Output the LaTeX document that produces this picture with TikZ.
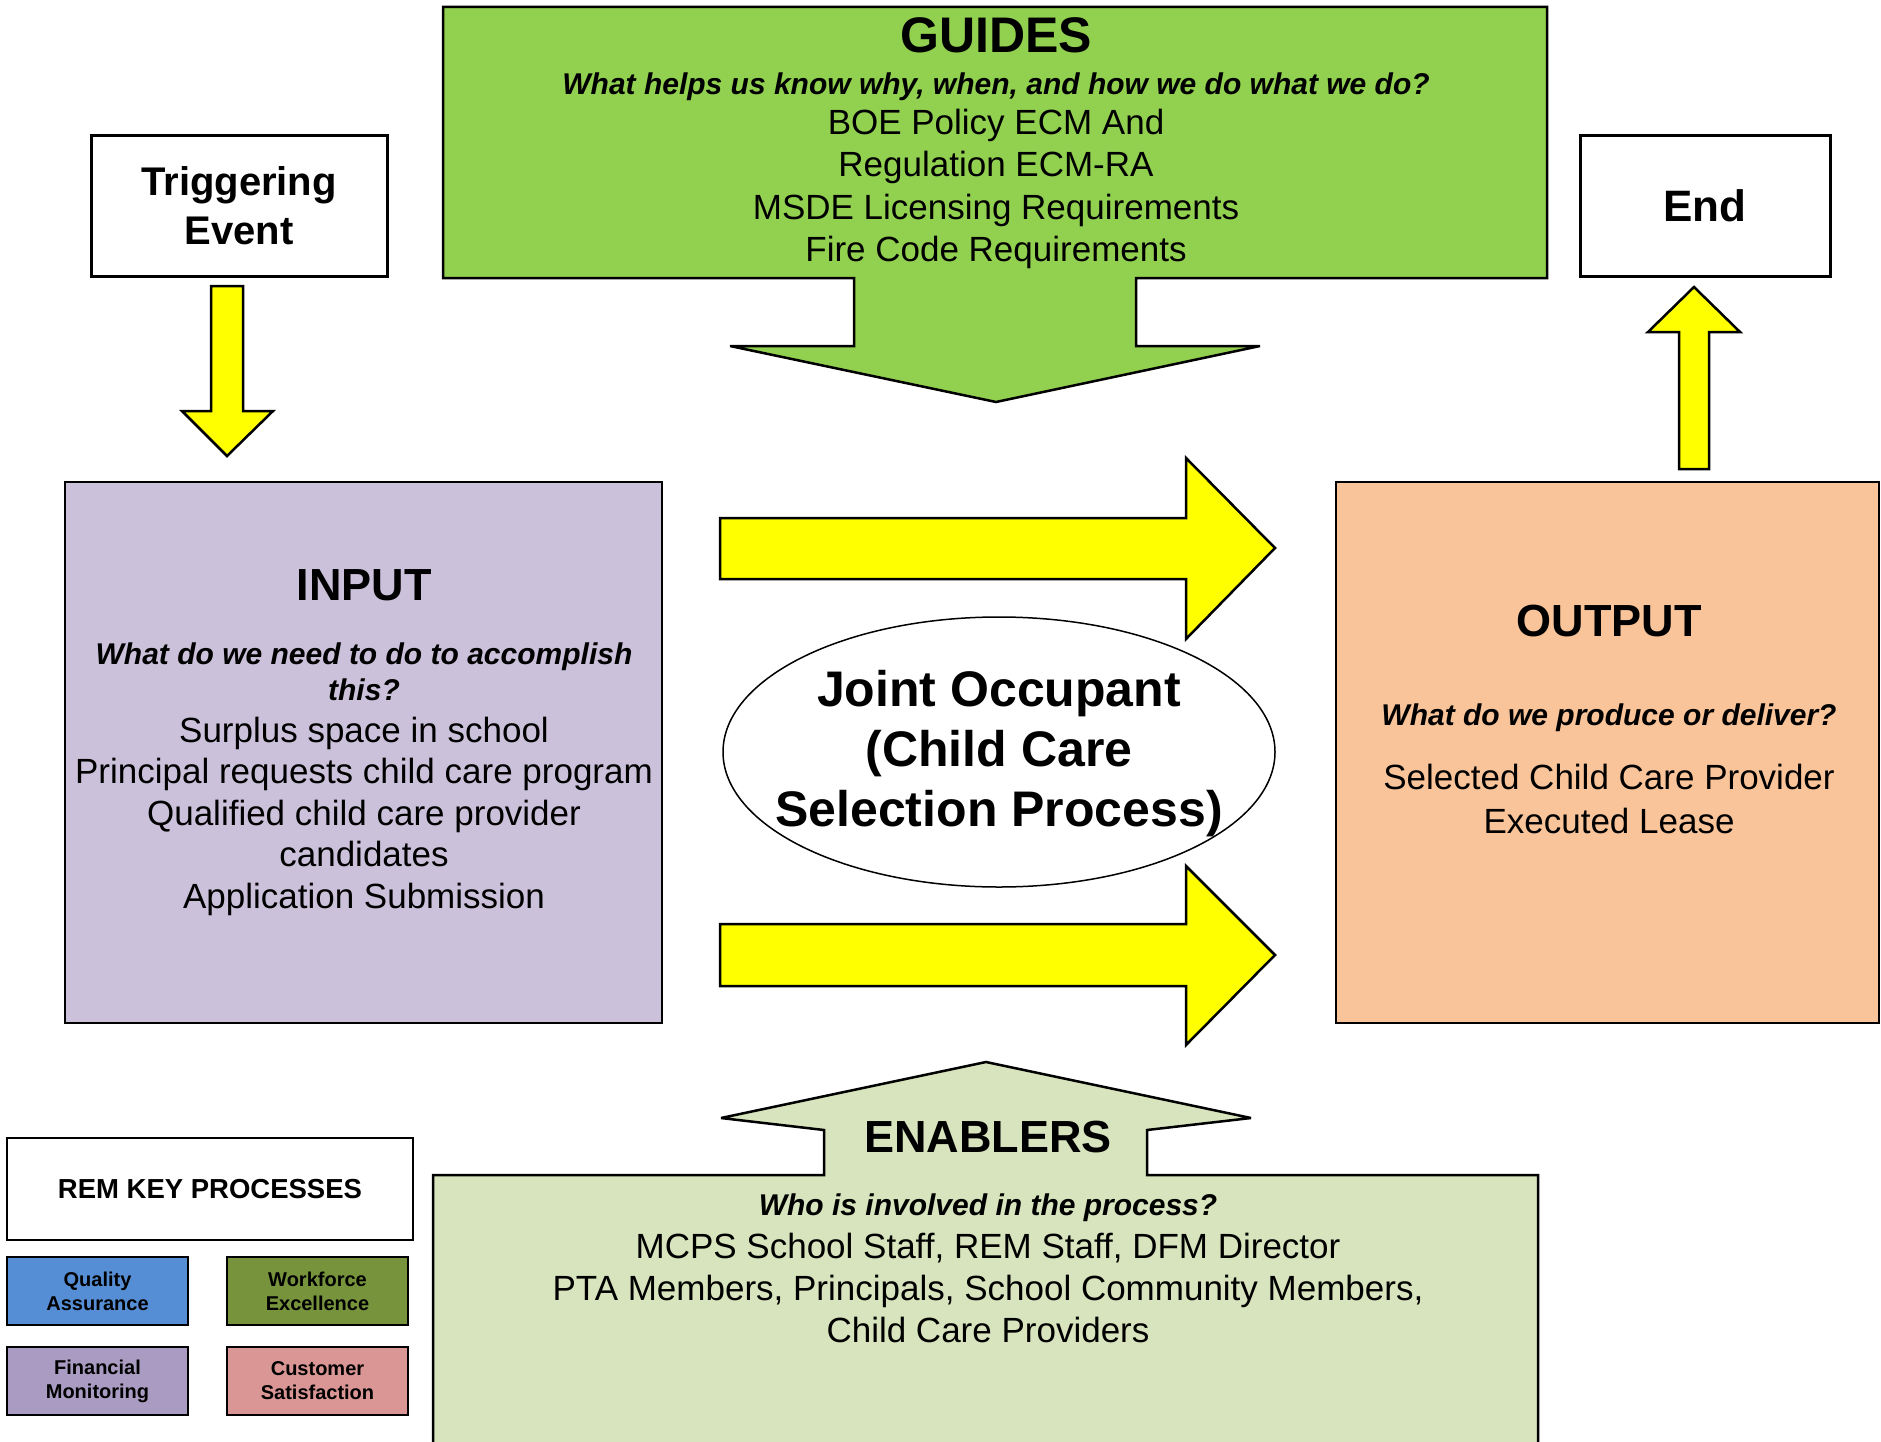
\documentclass[tikz,border=0pt]{standalone}
\usepackage{fontspec}
\setmainfont{Liberation Sans}
\usetikzlibrary{shapes.geometric}

\definecolor{guidegreen}{HTML}{92D050}
\definecolor{enablegreen}{HTML}{D7E4BD}
\definecolor{inputlilac}{HTML}{CCC1DA}
\definecolor{outputpeach}{HTML}{F9C499}
\definecolor{arrowyellow}{HTML}{FFFF00}
\definecolor{keyblue}{HTML}{558ED5}
\definecolor{keyolive}{HTML}{77933C}
\definecolor{keypurple}{HTML}{A99BC1}
\definecolor{keyrose}{HTML}{D99694}

\tikzset{
  blockarrow/.style={fill=arrowyellow, draw=black, line width=2.5pt, line join=miter,
                     miter limit=3},
  bigshape/.style={draw=black, line width=2.5pt, line join=miter, miter limit=2},
  plainbox/.style={rectangle, draw=black, fill=white, line width=3pt, inner sep=0pt,
                   align=center},
  panel/.style={rectangle, draw=black, line width=1.5pt, inner sep=0pt, anchor=north west},
  txt/.style={anchor=base, inner sep=0pt, align=center},
  head/.style={txt, font=\bfseries\fontsize{45}{54}\selectfont},
  ask/.style={txt, font=\bfseries\itshape\fontsize{30}{36}\selectfont},
  body/.style={txt, font=\fontsize{35}{42}\selectfont},
  coretext/.style={txt, font=\bfseries\fontsize{50}{60}\selectfont},
  keybox/.style={rectangle, draw=black, line width=2.5pt, minimum width=181pt,
                 minimum height=68pt, inner sep=0pt, align=center,
                 font=\bfseries\fontsize{20}{24}\selectfont},
}

\begin{document}
\begin{tikzpicture}[x=1pt, y=-1pt]
\useasboundingbox (0,0) rectangle (1881,1442);
\fill[white] (0,0) rectangle (1881,1442);

% ---------------- Guides: box with a downward arrow ----------------
\path[bigshape, fill=guidegreen]
  (443,7) -- (1547,7) -- (1547,278) -- (1136,278) -- (1136,346) -- (1260,346)
  -- (996,402) -- (730,346) -- (854,346) -- (854,278) -- (443,278) -- cycle;
\node[txt, font=\bfseries\fontsize{50}{60}\selectfont] (gtitle) at (996,53) {GUIDES};
\node[ask] (gask) at (996,95) {What helps us know why, when, and how we do what we do?};
\node[body] (g1) at (996,135) {BOE Policy ECM And};
\node[body] (g2) at (996,177) {Regulation ECM-RA};
\node[body] (g3) at (996,219) {MSDE Licensing Requirements};
\node[body] (g4) at (996,261) {Fire Code Requirements};

% ---------------- Start and end boxes ----------------
\node[plainbox, minimum width=296pt, minimum height=140pt,
      font=\bfseries\fontsize{40}{49}\selectfont] (trig) at (239,206) {Triggering\\Event};
\node[plainbox, minimum width=250pt, minimum height=140pt,
      font=\bfseries\fontsize{44}{52}\selectfont] (endbox) at (1705,206) {End};

% arrow from the trigger down to the input
\path[blockarrow] (211,286) -- (243,286) -- (243,411) -- (273,411) -- (227,456)
  -- (182,411) -- (211,411) -- cycle;
% arrow from the output up to the end
\path[blockarrow] (1679,469) -- (1709,469) -- (1709,332) -- (1740,332) -- (1694,287)
  -- (1648,332) -- (1679,332) -- cycle;

% ---------------- Input and output panels ----------------
\node[panel, fill=inputlilac, minimum width=597pt, minimum height=541pt] (input) at (64,481) {};
\node[head] (ititle) at (364,600) {INPUT};
\node[ask] (iask1) at (364,664) {What do we need to do to accomplish};
\node[ask] (iask2) at (364,700) {this?};
\node[body] (i1) at (364,742) {Surplus space in school};
\node[body] (i2) at (364,783.5) {Principal requests child care program};
\node[body] (i3) at (364,825) {Qualified child care provider};
\node[body] (i4) at (364,866.5) {candidates};
\node[body] (i5) at (364,908) {Application Submission};

\node[panel, fill=outputpeach, minimum width=543pt, minimum height=541pt] (output) at (1335,481) {};
\node[head] (otitle) at (1609,636) {OUTPUT};
\node[ask] (oask) at (1609,725) {What do we produce or deliver?};
\node[body] (o1) at (1609,789.5) {Selected Child Care Provider};
\node[body] (o2) at (1609,833) {Executed Lease};

% ---------------- Process in the middle ----------------
\node[ellipse, draw=black, fill=white, line width=1.5pt, inner sep=0pt,
      minimum width=552pt, minimum height=270pt] (core) at (999,752) {};

\path[blockarrow] (720,518) -- (1186,518) -- (1186,458) -- (1275,548) -- (1186,639)
  -- (1186,579) -- (720,579) -- cycle;
\path[blockarrow] (720,924) -- (1186,924) -- (1186,866) -- (1275,955) -- (1186,1045)
  -- (1186,986) -- (720,986) -- cycle;

\node[coretext] (c1) at (999,706) {Joint Occupant};
\node[coretext] (c2) at (999,766) {(Child Care};
\node[coretext] (c3) at (999,826) {Selection Process)};

% ---------------- Enablers: box with an upward arrow ----------------
\fill[enablegreen]
  (433,1450) -- (433,1175) -- (824,1175) -- (824,1130) -- (721,1118) -- (986,1062)
  -- (1251,1118) -- (1147,1130) -- (1147,1175) -- (1538,1175) -- (1538,1450) -- cycle;
\draw[bigshape]
  (433,1450) -- (433,1175) -- (824,1175) -- (824,1130) -- (721,1118) -- (986,1062)
  -- (1251,1118) -- (1147,1130) -- (1147,1175) -- (1538,1175) -- (1538,1450);
\node[head] (etitle) at (988,1152) {ENABLERS};
\node[ask] (eask) at (988,1215) {Who is involved in the process?};
\node[body] (e1) at (988,1258) {MCPS School Staff, REM Staff, DFM Director};
\node[body] (e2) at (988,1300) {PTA Members, Principals, School Community Members,};
\node[body] (e3) at (988,1342) {Child Care Providers};

% ---------------- Key processes legend ----------------
\node[rectangle, draw=black, fill=white, line width=2.5pt, inner sep=0pt,
      minimum width=406pt, minimum height=102pt,
      font=\bfseries\fontsize{27.5}{33}\selectfont] (rem) at (210,1189) {REM KEY PROCESSES};
\node[keybox, fill=keyblue]   (qa) at (97.5,1291)  {Quality\\Assurance};
\node[keybox, fill=keyolive]  (wf) at (317.5,1291) {Workforce\\Excellence};
\node[keybox, fill=keypurple] (fm) at (97.5,1381)  {Financial\\Monitoring};
\node[keybox, fill=keyrose]   (cs) at (317.5,1381) {Customer\\Satisfaction};
\end{tikzpicture}
\end{document}
